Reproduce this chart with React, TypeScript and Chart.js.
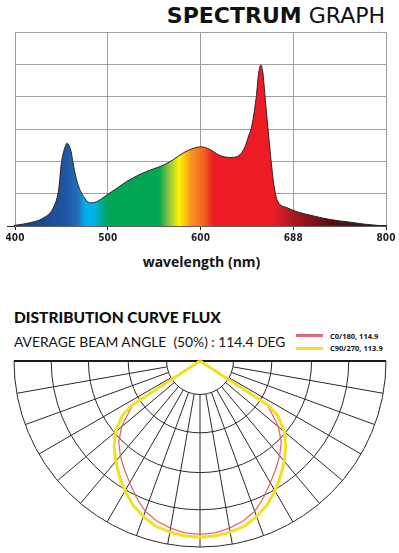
import React, { useEffect, useRef } from "react";
import { Chart, registerables } from "chart.js";
Chart.register(...registerables);

// ---------- Spectrum data ----------
const wavelengths = [400, 416, 430, 441, 447, 450, 454, 456, 460, 464, 468, 474, 481, 488, 499, 510, 520, 535, 545, 562, 571, 582, 592, 601, 610, 621, 632, 641, 648, 652, 655, 660, 663, 665, 667, 670, 675, 679, 683, 693, 704, 722, 740, 758, 776, 794, 800];
const intensity = [0.02, 0.1, 0.24, 0.55, 1.11, 1.94, 2.45, 2.56, 2.35, 1.73, 1.27, 0.91, 0.72, 0.75, 0.96, 1.17, 1.37, 1.6, 1.72, 1.91, 2.06, 2.27, 2.4, 2.45, 2.37, 2.18, 2.12, 2.17, 2.45, 2.8, 3.05, 3.97, 4.79, 4.98, 4.79, 3.87, 2.33, 1.3, 0.78, 0.57, 0.44, 0.31, 0.2, 0.13, 0.06, 0.01, 0];
const xTickValues = [400, 500, 600, 700, 800];
const xTickLabels = ["400", "500", "600", "688", "800"];
const spectrumStops: [number, string][] = [
  [400, "#1c3d88"], [440, "#1f4c9a"], [456, "#1e58a6"], [468, "#2470b8"], [476, "#00aeef"], [486, "#00b2e0"],
  [494, "#00a88a"], [502, "#00a651"], [555, "#00a651"], [566, "#8dc63f"], [577, "#fff200"], [590, "#f7941d"],
  [603, "#f26522"], [614, "#ed1c24"], [678, "#ed1c24"], [700, "#a81a20"], [740, "#5a0f12"], [800, "#231f20"],
];

// ---------- Distribution curve data ----------
const polarAngles = [0, 5, 10, 15, 20, 25, 30, 35, 40, 45, 50, 55, 57, 60];
const c0Values = [4.66, 4.64, 4.56, 4.46, 4.3, 4.05, 3.78, 3.55, 3.33, 3.09, 2.75, 2.3, 2.15, 0];
const c90Values = [4.74, 4.72, 4.67, 4.6, 4.45, 4.27, 4.03, 3.78, 3.52, 3.26, 2.97, 2.55, 2.2, 0];
const ringRadii = [0.9, 1.93, 3.0, 4.0, 5.0];
const spokeAngles = [-80, -70, -60, -50, -40, -30, -20, -10, 0, 10, 20, 30, 40, 50, 60, 70, 80];
const legendLabels = ["C0/180, 114.9", "C90/270, 113.9"];

function loop(values: number[]) {
  const pts: { x: number; y: number }[] = [];
  for (let i = polarAngles.length - 1; i >= 0; i--) {
    const a = (-polarAngles[i] * Math.PI) / 180;
    pts.push({ x: values[i] * Math.sin(a), y: -values[i] * Math.cos(a) });
  }
  for (let i = 1; i < polarAngles.length; i++) {
    const a = (polarAngles[i] * Math.PI) / 180;
    pts.push({ x: values[i] * Math.sin(a), y: -values[i] * Math.cos(a) });
  }
  return pts;
}

const polarGrid = {
  id: "polarGrid",
  beforeDatasetsDraw(chart: any) {
    const { ctx, scales } = chart;
    const sx = scales.x, sy = scales.y;
    const cx = sx.getPixelForValue(0), cy = sy.getPixelForValue(0);
    const u = sx.getPixelForValue(1) - cx;
    ctx.save();
    ctx.strokeStyle = "#2a2a2a";
    ctx.lineWidth = 1;
    ringRadii.forEach((r) => {
      ctx.beginPath();
      ctx.arc(cx, cy, r * u, 0, Math.PI);
      ctx.stroke();
    });
    const r0 = ringRadii[0], r1 = ringRadii[ringRadii.length - 1];
    spokeAngles.forEach((d) => {
      const a = (d * Math.PI) / 180;
      ctx.beginPath();
      ctx.moveTo(cx + r0 * u * Math.sin(a), cy + r0 * u * Math.cos(a));
      ctx.lineTo(cx + r1 * u * Math.sin(a), cy + r1 * u * Math.cos(a));
      ctx.stroke();
    });
    ctx.lineWidth = 2;
    ctx.strokeStyle = "#1a1a1a";
    ctx.beginPath();
    ctx.moveTo(cx - r1 * u, cy);
    ctx.lineTo(cx + r1 * u, cy);
    ctx.stroke();
    ctx.restore();
  },
};

function SpectrumChart() {
  const ref = useRef<HTMLCanvasElement>(null);
  useEffect(() => {
    const chart = new Chart(ref.current!, {
      type: "line",
      data: {
        datasets: [
          {
            data: wavelengths.map((w, i) => ({ x: w, y: intensity[i] })),
            borderColor: "#2b2323",
            borderWidth: 1,
            pointRadius: 0,
            fill: "origin",
            cubicInterpolationMode: "monotone",
            backgroundColor: (c: any) => {
              const ch = c.chart;
              if (!ch.chartArea) return "#00a651";
              const xs = ch.scales.x;
              const x0 = xs.getPixelForValue(400), x1 = xs.getPixelForValue(800);
              const g = ch.ctx.createLinearGradient(x0, 0, x1, 0);
              spectrumStops.forEach(([w, col]) => g.addColorStop((w - 400) / 400, col));
              return g;
            },
          },
        ],
      },
      options: {
        animation: false,
        responsive: false,
        layout: { padding: { top: 32, right: 13, left: 0, bottom: 0 } },
        plugins: { legend: { display: false }, tooltip: { enabled: false } },
        scales: {
          x: {
            type: "linear",
            min: 400,
            max: 800,
            afterBuildTicks: (s: any) => { s.ticks = xTickValues.map((v) => ({ value: v })); },
            afterFit: (s: any) => { s.height = 26; },
            ticks: {
              callback: (v: any) => xTickLabels[xTickValues.indexOf(Number(v))] ?? "",
              font: { family: "'DejaVu Sans Condensed', 'DejaVu Sans'", weight: "bold", size: 10 },
              color: "#1e1e1e",
              padding: 2,
              maxRotation: 0,
            },
            grid: { color: "#a0a0a0", lineWidth: 1, tickColor: "#1e1e1e", tickLength: 4 },
            border: { color: "#1e1e1e", width: 1.5 },
          },
          y: {
            min: 0,
            max: 6,
            afterFit: (s: any) => { s.width = 15; },
            ticks: { display: false, stepSize: 1 },
            grid: {
              color: "#a0a0a0",
              lineWidth: 1,
              tickLength: 8,
              tickColor: (c: any) => (c.tick && c.tick.value === 0 ? "#1e1e1e" : "rgba(0,0,0,0)"),
            },
            border: { color: "#a0a0a0", width: 1 },
          },
        },
      },
    });
    return () => chart.destroy();
  }, []);
  return <canvas ref={ref} width={399} height={252} style={{ position: "absolute", left: 0, top: 0, width: 399, height: 252 }} />;
}

function PolarChart() {
  const ref = useRef<HTMLCanvasElement>(null);
  useEffect(() => {
    const chart = new Chart(ref.current!, {
      type: "scatter",
      data: {
        datasets: [
          {
            label: legendLabels[1],
            data: loop(c90Values),
            showLine: true,
            borderColor: "#f3e020",
            borderWidth: 3,
            pointRadius: 0,
            clip: false,
            tension: 0,
          } as any,
          {
            label: legendLabels[0],
            data: loop(c0Values),
            showLine: true,
            borderColor: "rgba(222,90,95,0.9)",
            borderWidth: 1.3,
            pointRadius: 0,
            clip: false,
            tension: 0,
          } as any,
        ],
      },
      options: {
        animation: false,
        responsive: false,
        layout: { padding: { top: 6, right: 13, left: 14, bottom: 6 } },
        plugins: { legend: { display: false }, tooltip: { enabled: false } },
        scales: {
          x: { type: "linear", min: -5, max: 5, display: false },
          y: { type: "linear", min: -5, max: 0, display: false },
        },
      },
      plugins: [polarGrid],
    });
    return () => chart.destroy();
  }, []);
  return <canvas ref={ref} width={399} height={198} style={{ position: "absolute", left: 0, top: 355, width: 399, height: 198 }} />;
}

export default function App() {
  useEffect(() => {
    document.body.style.margin = "0";
  }, []);
  const abs: React.CSSProperties = { position: "absolute", whiteSpace: "pre", color: "#141414" };
  return (
    <div style={{ position: "relative", width: 399, height: 553, background: "#fff", overflow: "hidden" }}>
      <div style={{ ...abs, right: 14, top: 3, fontFamily: "'DejaVu Sans', sans-serif", fontSize: 22, lineHeight: "26px", color: "#111" }}>
        <span style={{ fontWeight: 700 }}>SPECTRUM</span>
        <span style={{ fontWeight: 400 }}> GRAPH</span>
      </div>
      <SpectrumChart />
      <div style={{ ...abs, left: 0, width: 403, textAlign: "center", top: 253, fontFamily: "'Open Sans', sans-serif", fontWeight: 700, fontSize: 14, lineHeight: "18px" }}>
        wavelength (nm)
      </div>
      <div style={{ ...abs, left: 14, top: 308, fontFamily: "Lato, 'Open Sans', sans-serif", fontWeight: 900, fontSize: 15.5, lineHeight: "18px", color: "#0e0e0e" }}>
        DISTRIBUTION CURVE FLUX
      </div>
      <div style={{ ...abs, left: 14, top: 334, fontFamily: "Lato, 'Open Sans', sans-serif", fontWeight: 400, fontSize: 13.8, lineHeight: "16px" }}>
        {"AVERAGE BEAM ANGLE  (50%) : 114.4 DEG"}
      </div>
      <div style={{ position: "absolute", left: 296, top: 334, width: 27, height: 3, background: "#e06a73" }} />
      <div style={{ position: "absolute", left: 296, top: 347, width: 27, height: 3, background: "#f0e030" }} />
      <div style={{ ...abs, left: 330, top: 331, fontFamily: "'Open Sans', sans-serif", fontWeight: 700, fontSize: 7.5, lineHeight: "10px" }}>
        {legendLabels[0]}
      </div>
      <div style={{ ...abs, left: 330, top: 343, fontFamily: "'Open Sans', sans-serif", fontWeight: 700, fontSize: 7.5, lineHeight: "10px" }}>
        {legendLabels[1]}
      </div>
      <PolarChart />
    </div>
  );
}
